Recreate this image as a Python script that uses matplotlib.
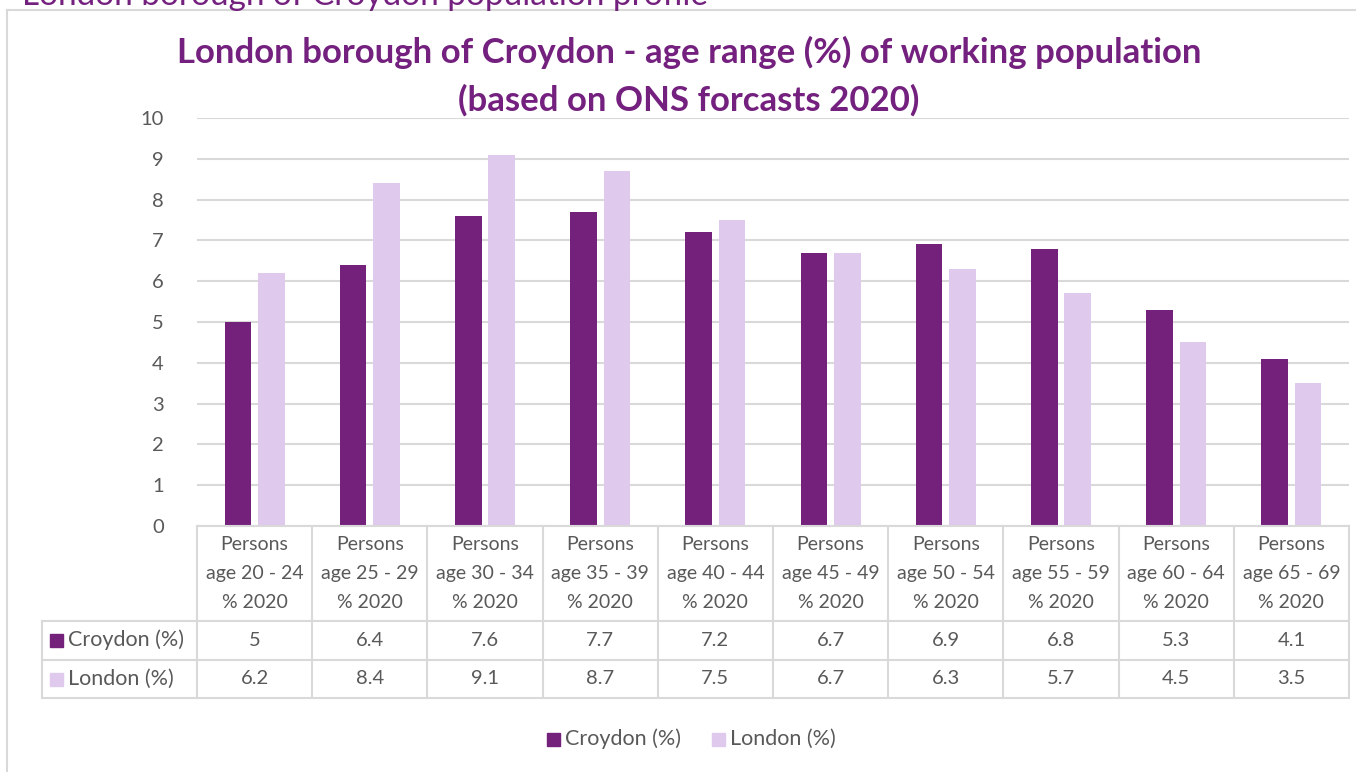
import numpy as np
import matplotlib
matplotlib.use("Agg")
import matplotlib.pyplot as plt
from matplotlib.patches import Rectangle

plt.rcParams['font.family'] = ['Lato', 'DejaVu Sans']

# data
age_groups = ['20 - 24', '25 - 29', '30 - 34', '35 - 39', '40 - 44',
              '45 - 49', '50 - 54', '55 - 59', '60 - 64', '65 - 69']
croydon = [5, 6.4, 7.6, 7.7, 7.2, 6.7, 6.9, 6.8, 5.3, 4.1]
london = [6.2, 8.4, 9.1, 8.7, 7.5, 6.7, 6.3, 5.7, 4.5, 3.5]
series_names = ['Croydon (%)', 'London (%)']
y_ticks = list(range(0, 11))

c_croy = '#74217c'
c_lon = '#dfc9ed'
c_grid = '#d9d9d9'
c_text = '#595959'
c_title = '#74207e'

W, H = 1356, 772
fig = plt.figure(figsize=(W / 100, H / 100), dpi=100)

def fx(px):
    return px / W

def fy(py):
    return 1 - py / H

# chart frame + page heading above (cut off at the top, as in the source)
fig.add_artist(plt.Line2D([fx(7), fx(7)], [fy(10), 0], color=c_grid, lw=1.5))
fig.add_artist(plt.Line2D([fx(7), 1], [fy(10), fy(10)], color=c_grid, lw=1.5))
fig.text(fx(22), fy(5), 'London borough of Croydon population profile',
         color=c_title, fontsize=24, va='baseline', ha='left')

# main plot
ax = fig.add_axes([fx(197), fy(526), fx(1349) - fx(197), fy(118) - fy(526)])
x = np.arange(len(age_groups))
bw = 0.23
ax.bar(x - 0.145, croydon, bw, color=c_croy, zorder=3)
ax.bar(x + 0.145, london, bw, color=c_lon, zorder=3)
ax.set_xlim(-0.5, len(age_groups) - 0.5)
ax.set_ylim(0, 10)
ax.set_yticks(y_ticks)
ax.set_xticks([])
ax.yaxis.grid(True, color=c_grid, lw=1.5, zorder=0)
for s in ax.spines.values():
    s.set_visible(False)
ax.tick_params(axis='y', length=0, pad=24, labelsize=14.5, labelcolor=c_text)

fig.text(fx(689), fy(52), 'London borough of Croydon - age range (%) of working population',
         color=c_title, fontsize=25, fontweight='bold', ha='center', va='center')
fig.text(fx(689), fy(100), '(based on ONS forcasts 2020)',
         color=c_title, fontsize=25, fontweight='bold', ha='center', va='center')

# data table below the axis
lab_w = 155 / 115.2
tab = fig.add_axes([fx(42), fy(698), fx(1349) - fx(42), fy(526) - fy(698)])
tab.set_xlim(-0.5 - lab_w, len(age_groups) - 0.5)
tab.set_ylim(698, 526)
tab.axis('off')
row_tops = [526, 621, 660, 698]
lw = 1.5
tab.plot([-0.5, 9.5], [526, 526], color=c_grid, lw=lw, clip_on=False)
for yy in row_tops[1:]:
    tab.plot([-0.5 - lab_w, 9.5], [yy, yy], color=c_grid, lw=lw, clip_on=False)
for xx in np.arange(-0.5, len(age_groups), 1.0):
    tab.plot([xx, xx], [526, 698], color=c_grid, lw=lw, clip_on=False)
tab.plot([-0.5 - lab_w] * 2, [621, 698], color=c_grid, lw=lw, clip_on=False)

for i, g in enumerate(age_groups):
    for yy, t in zip([545, 574, 602], ['Persons', 'age ' + g, '% 2020']):
        tab.text(i, yy, t, ha='center', va='center', fontsize=14, color=c_text)
    tab.text(i, 640, f'{croydon[i]:g}', ha='center', va='center', fontsize=14.5, color=c_text)
    tab.text(i, 679, f'{london[i]:g}', ha='center', va='center', fontsize=14.5, color=c_text)

for yy, name, col in zip([640, 679], series_names, [c_croy, c_lon]):
    fig.add_artist(Rectangle((fx(50), fy(yy + 6.5)), fx(13), fy(0) - fy(13),
                             color=col, transform=fig.transFigure))
    fig.text(fx(68), fy(yy), name, ha='left', va='center', fontsize=15.5, color=c_text)

# legend
for xs, name, col in zip([547, 712], series_names, [c_croy, c_lon]):
    fig.add_artist(Rectangle((fx(xs), fy(739 + 6.5)), fx(13), fy(0) - fy(13),
                             color=col, transform=fig.transFigure))
    fig.text(fx(xs + 18), fy(739), name, ha='left', va='center', fontsize=15.5, color=c_text)

fig.savefig('out.png', dpi=100)
